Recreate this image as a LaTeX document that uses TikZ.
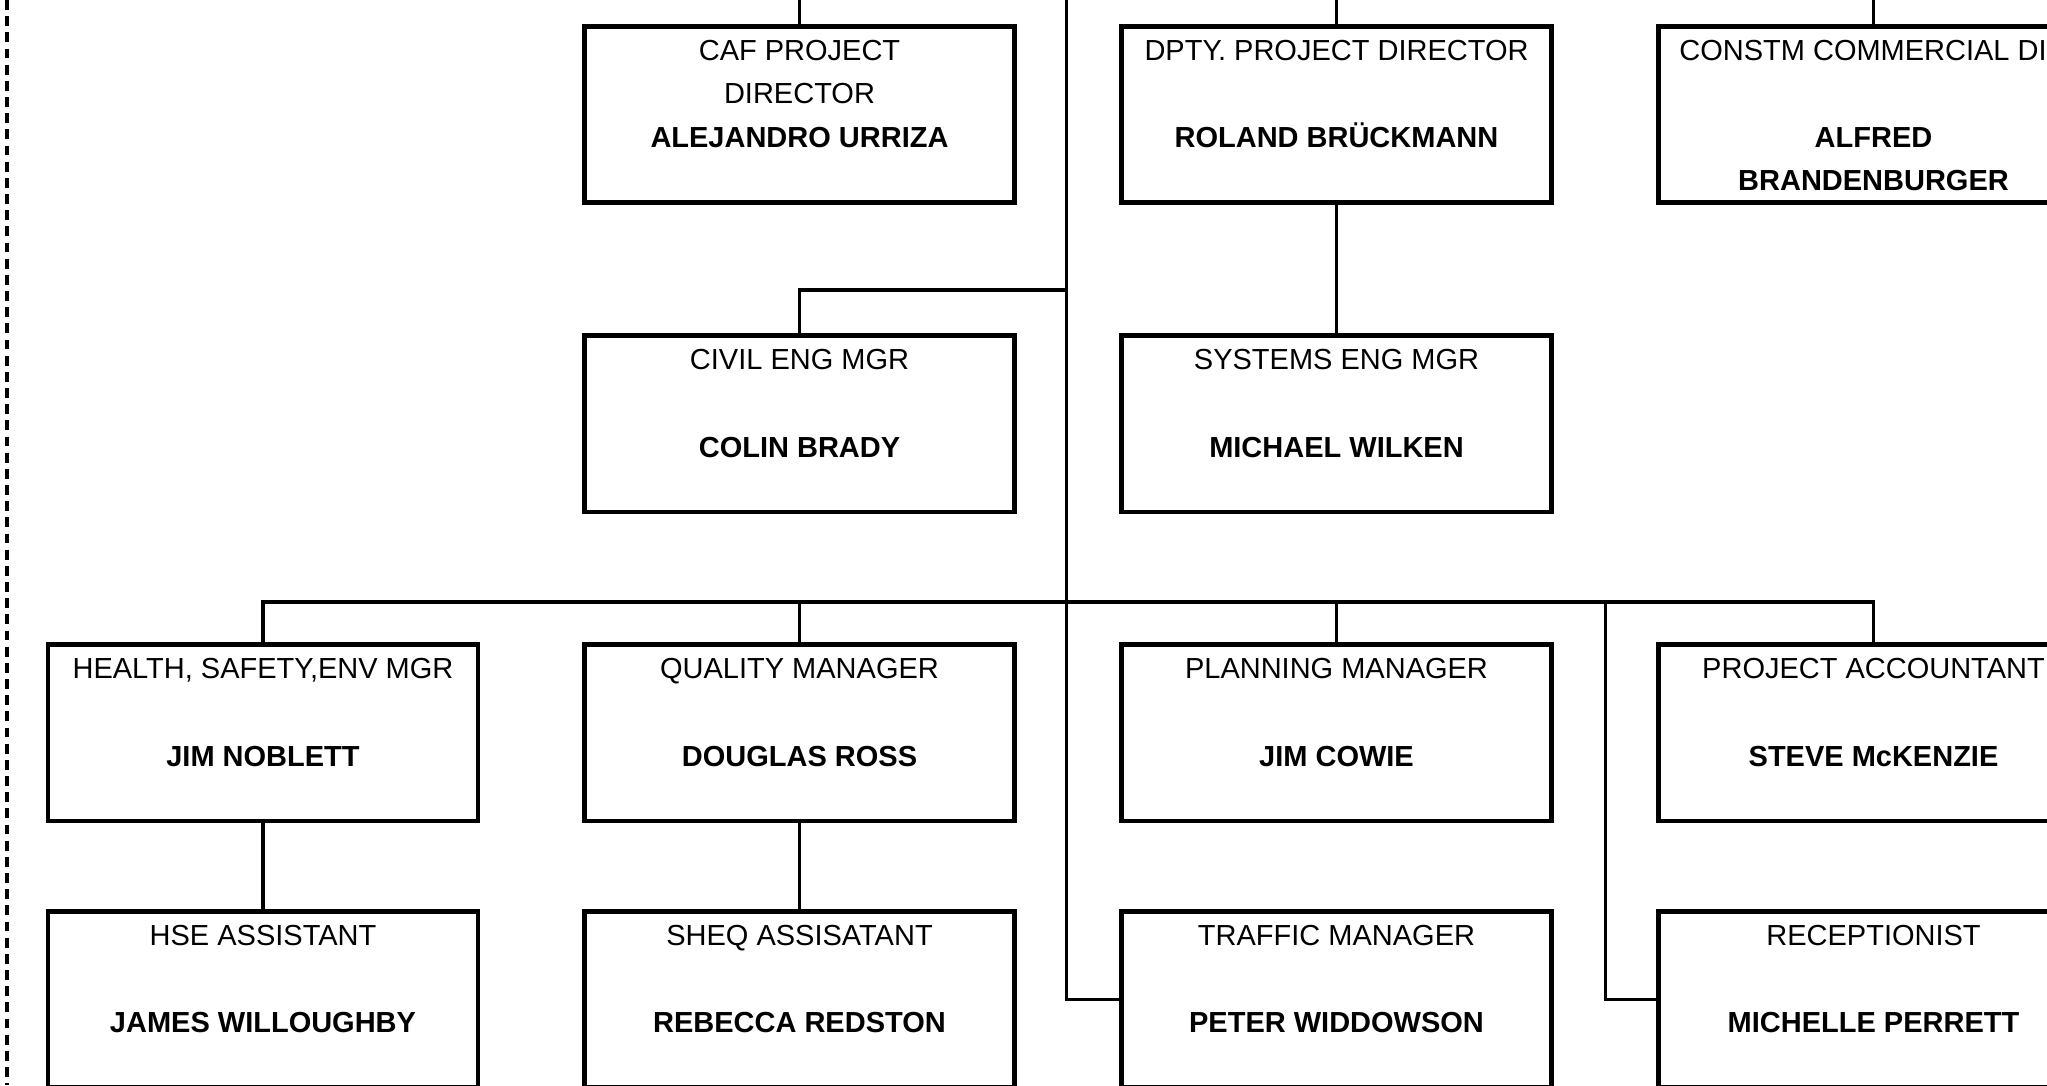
\documentclass[tikz,border=0pt]{standalone}
\usepackage{fontspec}
\setmainfont{Liberation Sans}
\newcommand{\toplines}[1]{\begin{tabular}[t]{@{}c@{}}#1\end{tabular}}
\tikzset{
  post/.style={draw, line width=1.4pt, minimum width=4.3cm, minimum height=1.765cm, inner sep=0pt},
  role/.style={anchor=base, inner sep=0pt, font=\fontsize{8.25}{12.2}\selectfont},
  holder/.style={role, font=\fontsize{8.25}{12.2}\selectfont\bfseries},
  wire/.style={line width=1.1pt},
}

\begin{document}
\begin{tikzpicture}
  \useasboundingbox (0,0) rectangle (20.47,-10.85);
  \draw[line width=1pt, dash pattern=on 2.8pt off 1.8pt] (0.07,0) -- (0.07,-10.85);

  \foreach \n/\x/\y/\r/\p in {
      caf/7.995/-1.1435/{CAF PROJECT\\DIRECTOR}/{ALEJANDRO URRIZA},
      dpty/13.365/-1.1435/{DPTY. PROJECT DIRECTOR}/{ROLAND BRÜCKMANN},
      constm/18.735/-1.1435/{CONSTM COMMERCIAL DIR}/{ALFRED\\BRANDENBURGER},
      civil/7.995/-4.2375/{CIVIL ENG MGR}/{COLIN BRADY},
      systems/13.365/-4.2375/{SYSTEMS ENG MGR}/{MICHAEL WILKEN},
      hsemgr/2.63/-7.3275/{HEALTH, SAFETY,ENV MGR}/{JIM NOBLETT},
      quality/7.995/-7.3275/{QUALITY MANAGER}/{DOUGLAS ROSS},
      planning/13.365/-7.3275/{PLANNING MANAGER}/{JIM COWIE},
      accountant/18.735/-7.3275/{PROJECT ACCOUNTANT}/{STEVE McKENZIE},
      hseasst/2.63/-9.9945/{HSE ASSISTANT}/{JAMES WILLOUGHBY},
      sheq/7.995/-9.9945/{SHEQ ASSISATANT}/{REBECCA REDSTON},
      traffic/13.365/-9.9945/{TRAFFIC MANAGER}/{PETER WIDDOWSON},
      reception/18.735/-9.9945/{RECEPTIONIST}/{MICHELLE PERRETT}} {
    \node[post](\n) at (\x, \y) {};
    \node[role](\n-r) at ([yshift=-0.365cm]\n.north) {\toplines{\r}};
    \node[holder](\n-p) at ([yshift=-1.24cm]\n.north) {\toplines{\p}};
  }

  \coordinate (spinetop) at (10.665, 0);
  \coordinate (civtap) at (10.665, -2.898);
  \coordinate (bustap) at (10.665, -6.018);
  \coordinate (desktap) at (16.055, -6.018);

  \draw[wire] (spinetop) |- (traffic.west);
  \draw[wire] (caf.north) -- (caf.north |- spinetop);
  \draw[wire] (dpty.north) -- (dpty.north |- spinetop);
  \draw[wire] (constm.north) -- (constm.north |- spinetop);
  \draw[wire] (civtap) -| (civil.north);
  \draw[wire] (dpty.south) -- (systems.north);
  \draw[wire] (hsemgr.north) |- (bustap) -| (accountant.north);
  \draw[wire] (quality.north) -- (quality.north |- bustap);
  \draw[wire] (planning.north) -- (planning.north |- bustap);
  \draw[wire] (desktap) |- (reception.west);
  \draw[wire] (hsemgr.south) -- (hseasst.north);
  \draw[wire] (quality.south) -- (sheq.north);
\end{tikzpicture}
\end{document}
